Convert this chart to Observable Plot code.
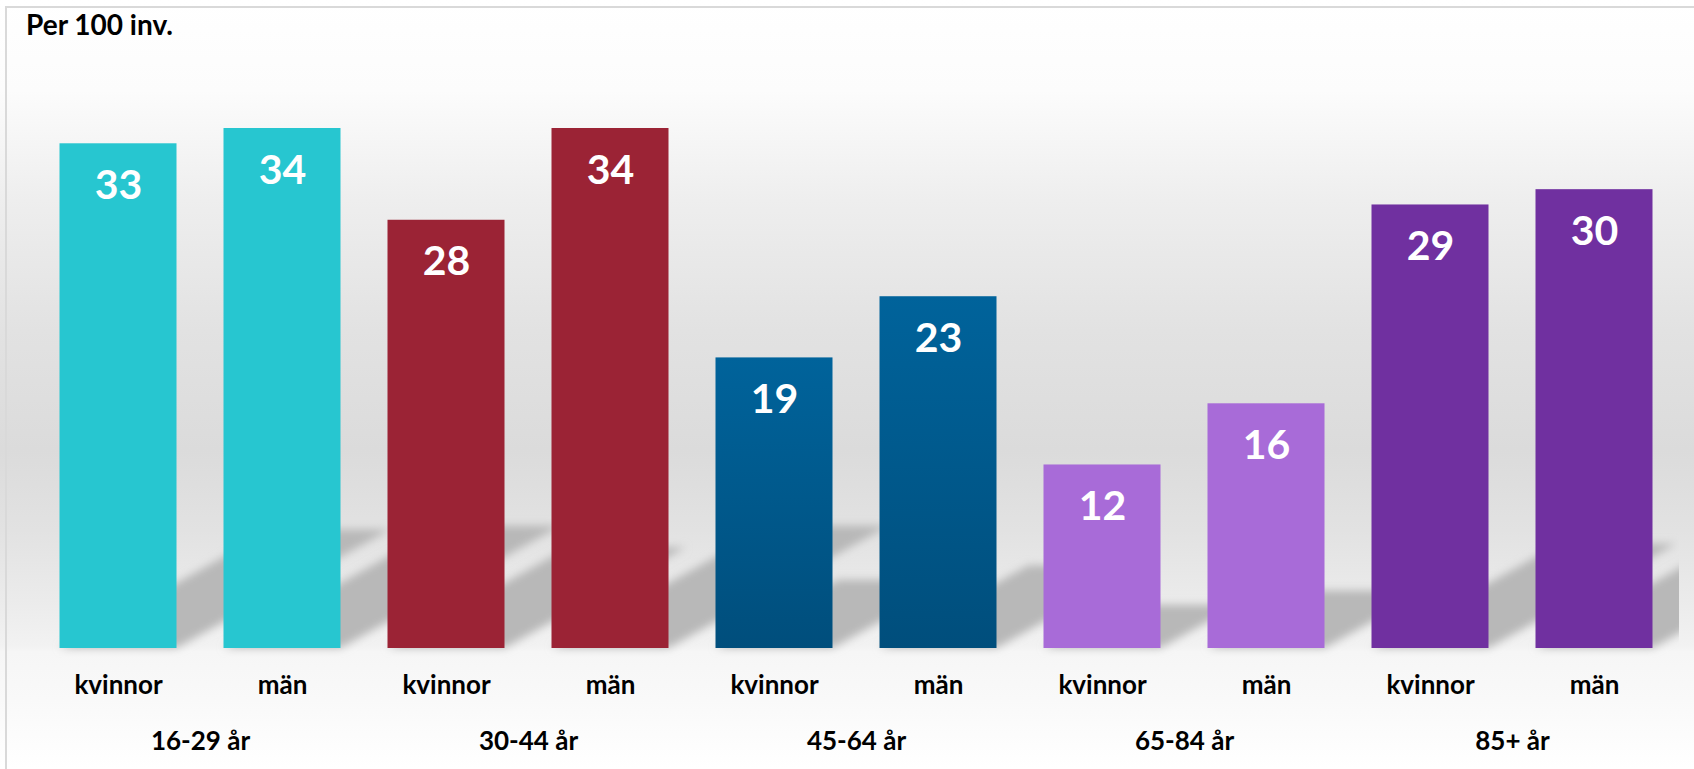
<!DOCTYPE html>
<html>
<head>
<meta charset="utf-8">
<script src="https://cdn.jsdelivr.net/npm/d3@7"></script>
<script src="https://cdn.jsdelivr.net/npm/@observablehq/plot@0.6"></script>
<style>
html, body { margin: 0; padding: 0; overflow: hidden; background: #fff; }
#wrap {
  position: relative; width: 1694px; height: 769px; overflow: hidden;
  background: linear-gradient(to bottom, #ffffff 0px, #fcfcfc 90px, #eeeeee 200px, #e2e2e2 330px, #dbdbdb 450px, #e2e2e2 530px, #ebebeb 600px, #f2f2f2 646px, #f6f6f6 652px, #f9f9f9 700px, #ffffff 769px);
}
#border { position: absolute; left: 5px; top: 6px; width: 1720px; height: 800px; border: 2px solid #d9d9d9; box-sizing: border-box; pointer-events: none; }
#title { position: relative; height: 50px; box-sizing: border-box; padding: 7px 0 0 26px; font: bold 28px Lato, sans-serif; color: #000; line-height: normal; }
#chart { position: relative; }
</style>
</head>
<body>
<svg width="0" height="0" style="position:absolute">
  <defs>
    <linearGradient id="blueGrad" x1="0" y1="0" x2="0" y2="1">
      <stop offset="0" stop-color="#00639B"/>
      <stop offset="1" stop-color="#004E7C"/>
    </linearGradient>
    <filter id="shadowBlur" x="-30%" y="-50%" width="160%" height="200%">
      <feGaussianBlur stdDeviation="4.5"/>
    </filter>
  </defs>
</svg>
<div id="wrap">
  <div id="border"></div>
  <div id="title">Per 100 inv.</div>
  <div id="chart"></div>
</div>
<script>
// ---- data ----
const groups = ["16-29 år", "30-44 år", "45-64 år", "65-84 år", "85+ år"];
const sexes = ["kvinnor", "män"];
const kvinnor = [33, 28, 19, 12, 29];
const man = [34, 34, 23, 16, 30];
const groupColors = ["#27C6D0", "#9B2335", "url(#blueGrad)", "#A86BD8", "#7030A0"];

const data = groups.flatMap((g, i) => [
  {group: g, sex: sexes[0], value: kvinnor[i], color: groupColors[i]},
  {group: g, sex: sexes[1], value: man[i], color: groupColors[i]}
]);

// perspective shadow: scaled-down height, skewed to the upper right
const shadowScale = 0.235, shadowSkew = 1.8;

const chart = Plot.plot({
  width: 1679,
  height: 719,
  marginTop: 78,
  marginBottom: 121,
  marginLeft: 35.5,
  marginRight: 2.5,
  style: {fontFamily: "Lato, sans-serif", background: "transparent", overflow: "hidden", color: "#000"},
  fx: {domain: groups, padding: 0, label: null},
  x: {domain: sexes, paddingInner: 0.286, paddingOuter: 0.143, label: null},
  y: {domain: [0, 34], axis: null},
  color: {type: "identity"},
  marks: [
    Plot.barY(data, {
      fx: "group", x: "sex", y: "value",
      render(index, scales, values) {
        const g = d3.create("svg:g").attr("filter", "url(#shadowBlur)").attr("fill", "#b8b8b8");
        const y0 = scales.y(0);
        const bw = scales.x.bandwidth();
        for (const i of index) {
          const x0 = values.x[i], x1 = x0 + bw;
          const h = shadowScale * (y0 - values.y2[i]);
          const d = shadowSkew * h;
          g.append("path").attr("d",
            `M${x0},${y0}L${x1},${y0}L${x1 + d},${y0 - h}L${x0 + d},${y0 - h}Z`);
        }
        return g.node();
      }
    }),
    Plot.barY(data, {fx: "group", x: "sex", y: "value", fill: "color"}),
    Plot.text(data, {
      fx: "group", x: "sex", y: "value", text: d => String(d.value),
      dy: 42, lineAnchor: "middle", fill: "white", fontSize: 41, fontWeight: "bold"
    }),
    Plot.axisX({anchor: "bottom", tickSize: 0, tickPadding: 27.5, fontSize: 26, fontWeight: "bold", label: null}),
    Plot.axisFx({anchor: "bottom", tickSize: 0, tickPadding: 83.5, fontSize: 26, fontWeight: "bold", label: null})
  ]
});
document.getElementById("chart").appendChild(chart);
</script>
</body>
</html>
